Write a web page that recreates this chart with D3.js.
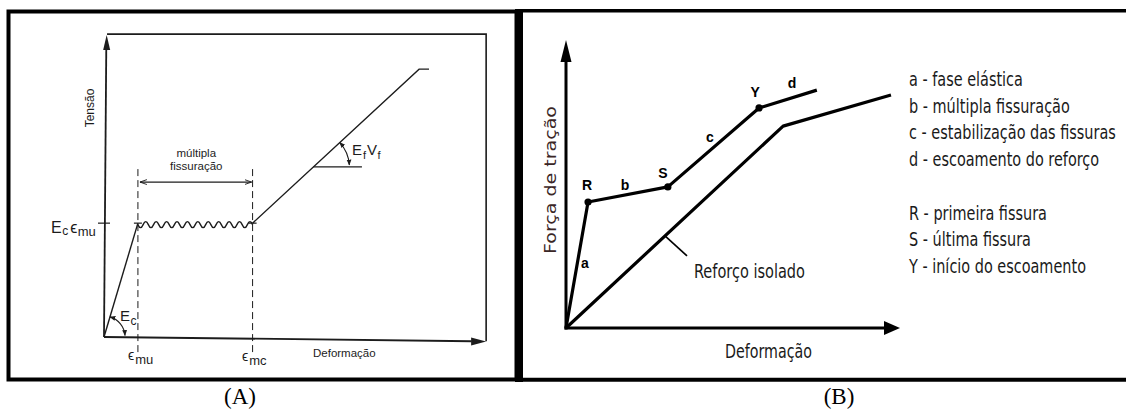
<!DOCTYPE html>
<html><head><meta charset="utf-8">
<script src="https://cdn.jsdelivr.net/npm/d3@7"></script>
<style>body{margin:0;background:#fff;} svg{display:block;}</style>
</head><body>
<script>
// ---------------- DATA ----------------
// Panel A : idealised tension curve of the composite (relative units 0..100)
const aKeyNames   = ["origem", "εmu", "εmc", "fim"];
const aStrain     = [0, 8.9, 39.0, 82.7];
const aStress     = [0, 37.7, 37.7, 88.7];
const aEndTickStrain = 85.3;          // short horizontal stroke at the end of the curve
const aEfRefStress   = 56.3;          // reference line used to show the slope EfVf
const aEfRefStrainEnd = 67.7;
const aTopFissLabel  = ["múltipla", "fissuração"];

// Panel B : tension-stiffening diagram (relative units 0..100)
const bCompNames  = ["O", "R", "S", "Y", "fim"];
const bCompStrain = [0, 6.6, 30.5, 57.8, 75.1];
const bCompForce  = [0, 43.75, 49.0, 76.4, 82.6];
const bBareStrain = [0, 65.0, 97.3];
const bBareForce  = [0, 70.1, 80.9];
const bSegNames   = ["a", "b", "c", "d"];
const bLegendPhases = ["a - fase elástica", "b - múltipla fissuração",
                       "c - estabilização das fissuras", "d - escoamento do reforço"];
const bLegendPoints = ["R - primeira fissura", "S - última fissura", "Y - início do escoamento"];

// ---------------- SETUP ----------------
const W = 1126, H = 413;
const svg = d3.select("body").append("svg").attr("width", W).attr("height", H)
  .style("background", "#fff");
const defs = svg.append("defs");
const ink = "#1c1c1c";

defs.append("marker").attr("id", "tri").attr("viewBox", "0 0 10 10")
  .attr("refX", 9).attr("refY", 5).attr("markerWidth", 6).attr("markerHeight", 6)
  .attr("markerUnits", "userSpaceOnUse").attr("orient", "auto-start-reverse")
  .append("path").attr("d", "M0,1L10,5L0,9Z").attr("fill", ink);
defs.append("marker").attr("id", "open").attr("viewBox", "0 0 10 10")
  .attr("refX", 10).attr("refY", 5).attr("markerWidth", 7).attr("markerHeight", 7)
  .attr("markerUnits", "userSpaceOnUse").attr("orient", "auto-start-reverse")
  .append("path").attr("d", "M0,1.5L10,5L0,8.5").attr("fill", "none").attr("stroke", ink).attr("stroke-width", 1.3);

function arrowHead(g, tip, dir, len, half, color) {
  const [tx, ty] = tip, [dx, dy] = dir;
  const bx = tx - dx * len, by = ty - dy * len, px = -dy, py = dx;
  g.append("path").attr("d",
    `M${tx},${ty}L${bx + px * half},${by + py * half}L${bx - px * half},${by - py * half}Z`)
    .attr("fill", color);
}

// Frames
svg.append("rect").attr("x", 8.5).attr("y", 11.5).attr("width", 508).attr("height", 368)
  .attr("fill", "none").attr("stroke", "#000").attr("stroke-width", 4);
svg.append("rect").attr("x", 515).attr("y", 9).attr("width", 8).attr("height", 373).attr("fill", "#000");
svg.append("line").attr("x1", 515).attr("x2", W).attr("y1", 10.8).attr("y2", 10.8)
  .attr("stroke", "#000").attr("stroke-width", 3.5);
svg.append("line").attr("x1", 515).attr("x2", W).attr("y1", 379.7).attr("y2", 379.7)
  .attr("stroke", "#000").attr("stroke-width", 4);

// ---------------- PANEL A ----------------
const xA = d3.scaleLinear().domain([0, 100]).range([104, 485]);
const yA = d3.scaleLinear().domain([0, 100]).range([337, 35]);
const gA = svg.append("g");
const fA = "'Liberation Sans', Arial, sans-serif";

// inner frame (top and right)
gA.append("path").attr("d",
  `M${xA(0.8)},${yA(100.3)}L${xA(100.3)},${yA(100.3)}L${xA(100.3)},${yA(-1.4)}`)
  .attr("fill", "none").attr("stroke", ink).attr("stroke-width", 1.6);
// axes
gA.append("line").attr("x1", xA(0)).attr("y1", yA(0)).attr("x2", xA(0.6)).attr("y2", yA(96))
  .attr("stroke", ink).attr("stroke-width", 1.8);
arrowHead(gA, [xA(0.7), yA(100)], [0, -1], 15, 3.5, ink);
gA.append("line").attr("x1", xA(0)).attr("y1", yA(0)).attr("x2", xA(96.5)).attr("y2", yA(-1.4))
  .attr("stroke", ink).attr("stroke-width", 1.8);
arrowHead(gA, [xA(100.3), yA(-1.5)], [1, 0], 15, 4, ink);

// dashed verticals
[aStrain[1], aStrain[2]].forEach(s => {
  gA.append("line").attr("x1", xA(s)).attr("x2", xA(s)).attr("y1", yA(55.6)).attr("y2", yA(-5))
    .attr("stroke", ink).attr("stroke-width", 1).attr("stroke-dasharray", "7,4");
});
// double arrow
gA.append("line").attr("x1", xA(aStrain[1]) + 2).attr("x2", xA(aStrain[2]) - 1)
  .attr("y1", yA(51.3)).attr("y2", yA(51.3)).attr("stroke", ink).attr("stroke-width", 1.2)
  .attr("marker-start", "url(#open)").attr("marker-end", "url(#open)");
gA.selectAll("text.mf").data(aTopFissLabel).join("text")
  .attr("x", (xA(aStrain[1]) + xA(aStrain[2])) / 2 + 1).attr("y", (d, i) => 157 + i * 13)
  .attr("text-anchor", "middle").attr("font-family", fA).attr("font-size", 11.5).attr("fill", ink)
  .text(d => d);

// curve: elastic branch
gA.append("line").attr("x1", xA(aStrain[0])).attr("y1", yA(aStress[0]))
  .attr("x2", xA(aStrain[1])).attr("y2", yA(aStress[1])).attr("stroke", ink).attr("stroke-width", 1.4);
// wavy plateau
(function () {
  const x0 = xA(aStrain[1]), x1 = xA(aStrain[2]), y = yA(aStress[1]) + 1.5;
  const halfWaves = 22, h = (x1 - x0) / halfWaves, amp = 6;
  let d = `M${x0},${y}`;
  for (let i = 0; i < halfWaves; i++) {
    const s = i % 2 === 0 ? 1 : -1;
    d += `Q${x0 + (i + 0.5) * h},${y + s * amp} ${x0 + (i + 1) * h},${y}`;
  }
  gA.append("path").attr("d", d).attr("fill", "none").attr("stroke", ink).attr("stroke-width", 1.4);
})();
// post-cracking branch
gA.append("path").attr("d",
  `M${xA(aStrain[2])},${yA(aStress[2])}L${xA(aStrain[3])},${yA(aStress[3])}L${xA(aEndTickStrain)},${yA(aStress[3])}`)
  .attr("fill", "none").attr("stroke", ink).attr("stroke-width", 1.4);
// small ticks
gA.append("line").attr("x1", xA(0) - 6).attr("x2", xA(0) + 6).attr("y1", yA(aStress[1])).attr("y2", yA(aStress[1]))
  .attr("stroke", ink).attr("stroke-width", 1.2);
[aStrain[1], aStrain[2]].forEach(s => {
  gA.append("line").attr("x1", xA(s) - 4).attr("x2", xA(s) + 4).attr("y1", yA(aStress[1])).attr("y2", yA(aStress[1]))
    .attr("stroke", ink).attr("stroke-width", 1.2);
});

// Ec angle arc
(function () {
  const cx = xA(0), cy = yA(0);
  const ang = Math.atan2(cy - yA(aStress[1]), xA(aStrain[1]) - cx);
  const r = 21;
  gA.append("path").attr("d",
    `M${cx + r * Math.cos(ang)},${cy - r * Math.sin(ang)}A${r},${r} 0 0,1 ${cx + r},${cy - 1.5}`)
    .attr("fill", "none").attr("stroke", ink).attr("stroke-width", 1.1)
    .attr("marker-start", "url(#tri)").attr("marker-end", "url(#tri)");
})();
// EfVf angle arc + reference line
(function () {
  const x2 = xA(aStrain[2]), y2 = yA(aStress[2]), x3 = xA(aStrain[3]), y3 = yA(aStress[3]);
  const yr = yA(aEfRefStress);
  const xr = x2 + (y2 - yr) / (y2 - y3) * (x3 - x2);
  gA.append("line").attr("x1", xr).attr("x2", xA(aEfRefStrainEnd)).attr("y1", yr).attr("y2", yr)
    .attr("stroke", ink).attr("stroke-width", 1.2);
  const ang = Math.atan2(y2 - y3, x3 - x2), r = 36;
  gA.append("path").attr("d",
    `M${xr + r * Math.cos(ang)},${yr - r * Math.sin(ang)}A${r},${r} 0 0,1 ${xr + r},${yr - 2}`)
    .attr("fill", "none").attr("stroke", ink).attr("stroke-width", 1.1)
    .attr("marker-start", "url(#tri)").attr("marker-end", "url(#tri)");
})();

// Texts panel A
function sub(g, x, y, parts) {
  const t = g.append("text").attr("x", x).attr("y", y).attr("font-family", fA).attr("fill", ink);
  parts.forEach(p => t.append("tspan").attr("font-size", p[1]).attr("dy", p[2] || 0)
    .attr("dx", p[3] || 0).text(p[0]));
  return t;
}
gA.append("text").attr("transform", `translate(94,108) rotate(-90)`).attr("text-anchor", "middle")
  .attr("font-family", fA).attr("font-size", 12).attr("fill", ink).text("Tensão");
sub(gA, 51, 233, [["E", 16], ["c", 12, 2, 0.5], ["ϵ", 16, -2, 2], ["mu", 13, 3, 0.5]]);
sub(gA, 120, 321, [["E", 15], ["c", 12, 4, 0.5]]);
sub(gA, 352, 155, [["E", 15], ["f", 11, 4, 1], ["V", 15, -4, 1], ["f", 11, 4, 0.5]]);
sub(gA, 128, 360, [["ϵ", 14], ["mu", 13, 4, 1]]);
sub(gA, 242, 361, [["ϵ", 14], ["mc", 13, 4, 1]]);
gA.append("text").attr("x", 313).attr("y", 357).attr("font-family", fA).attr("font-size", 11.5)
  .attr("fill", ink).text("Deformação");

// ---------------- PANEL B ----------------
const xB = d3.scaleLinear().domain([0, 100]).range([566, 900]);
const yB = d3.scaleLinear().domain([0, 100]).range([328, 40]);
const gB = svg.append("g");
const fN = "'Liberation Sans Narrow', 'Arial Narrow', 'DejaVu Sans Condensed', sans-serif";
const tB = "#1a1a1a";

// condensed text: natural width fitted by font-size, height restored by a vertical scale
function narrowText(g, x, y, str, size, width, anchor) {
  const t = g.append("text").attr("font-family", fN).attr("font-size", size)
    .attr("fill", tB).attr("text-anchor", anchor || "start").text(str);
  const l = t.node().getComputedTextLength();
  const fs = size * width / l;
  t.attr("font-size", fs).attr("transform", `translate(${x},${y}) scale(1,${size / fs})`);
  return t;
}

// axes
gB.append("line").attr("x1", xB(0)).attr("y1", yB(0) + 1.5).attr("x2", xB(0)).attr("y2", yB(94))
  .attr("stroke", "#000").attr("stroke-width", 3);
arrowHead(gB, [xB(0), yB(100)], [0, -1], 22, 5.5, "#000");
gB.append("line").attr("x1", xB(0) - 1.5).attr("y1", yB(0)).attr("x2", xB(96)).attr("y2", yB(0))
  .attr("stroke", "#000").attr("stroke-width", 3);
arrowHead(gB, [xB(100), yB(0)], [1, 0], 16, 7, "#000");

const lineB = d3.line().x(d => xB(d[0])).y(d => yB(d[1]));
const comp = bCompStrain.map((s, i) => [s, bCompForce[i]]);
const bare = bBareStrain.map((s, i) => [s, bBareForce[i]]);
gB.append("path").attr("d", lineB(bare)).attr("fill", "none").attr("stroke", "#000")
  .attr("stroke-width", 3.2).attr("stroke-linejoin", "round");
gB.append("path").attr("d", lineB(comp)).attr("fill", "none").attr("stroke", "#000")
  .attr("stroke-width", 3.2).attr("stroke-linejoin", "round");
gB.selectAll("circle.pt").data(comp.slice(1, 4)).join("circle")
  .attr("cx", d => xB(d[0])).attr("cy", d => yB(d[1])).attr("r", 3.6).attr("fill", "#000");

// point labels R S Y
const ptOff = [[-1, -12], [-5, -9], [-4, -11]];
gB.selectAll("text.pl").data(bCompNames.slice(1, 4)).join("text")
  .attr("x", (d, i) => xB(comp[i + 1][0]) + ptOff[i][0])
  .attr("y", (d, i) => yB(comp[i + 1][1]) + ptOff[i][1])
  .attr("text-anchor", "middle").attr("font-family", "'Liberation Sans', Arial, sans-serif")
  .attr("font-weight", "bold").attr("font-size", 14).attr("fill", "#000").text(d => d);
// segment labels a b c d
const segOff = [[8, 3], [-3, -4.5], [-3.5, -5.5], [4, -11]];
gB.selectAll("text.sl").data(bSegNames).join("text")
  .attr("x", (d, i) => (xB(comp[i][0]) + xB(comp[i + 1][0])) / 2 + segOff[i][0])
  .attr("y", (d, i) => (yB(comp[i][1]) + yB(comp[i + 1][1])) / 2 + segOff[i][1])
  .attr("text-anchor", "middle").attr("font-family", "'Liberation Sans', Arial, sans-serif")
  .attr("font-weight", "bold").attr("font-size", 14).attr("fill", "#000").text(d => d);

// leader for "Reforço isolado"
(function () {
  const t = 0.456; // fraction along the first segment of the bare bar line
  const sx = xB(bare[1][0] * t), sy = yB(bare[1][1] * t);
  gB.append("line").attr("x1", sx).attr("y1", sy).attr("x2", sx + 22).attr("y2", sy + 20)
    .attr("stroke", "#000").attr("stroke-width", 1.6);
  narrowText(gB, sx + 29, sy + 42, "Reforço isolado", 19, 111);
})();

gB.append("text").attr("transform", "translate(556,180) rotate(-90)").attr("text-anchor", "middle")
  .attr("font-family", "'DejaVu Sans', Verdana, sans-serif").attr("font-size", 16)
  .attr("fill", "#3a2626").attr("textLength", 148).attr("lengthAdjust", "spacingAndGlyphs")
  .text("Força de tração");
narrowText(gB, 725, 358, "Deformação", 20, 87);

// legend
const legG = gB.append("g");
const legItems = bLegendPhases.map((t, i) => ({t, y: 86 + i * 26.7}))
  .concat(bLegendPoints.map((t, i) => ({t, y: 219.5 + i * 26.7})));
const probe = legG.append("text").attr("font-family", fN).attr("font-size", 19)
  .text(bLegendPhases[2]);
const legFs = 19 * 207 / probe.node().getComputedTextLength();
probe.remove();
legG.selectAll("text").data(legItems).join("text")
  .attr("transform", d => `translate(909,${d.y}) scale(1,${19 / legFs})`)
  .attr("font-family", fN).attr("font-size", legFs).attr("fill", tB).text(d => d.t);

// ---------------- captions ----------------
svg.append("text").attr("x", 240).attr("y", 404).attr("text-anchor", "middle")
  .attr("font-family", "'Liberation Serif', 'Times New Roman', serif").attr("font-size", 23)
  .attr("fill", "#000").text("(A)");
svg.append("text").attr("x", 839).attr("y", 404).attr("text-anchor", "middle")
  .attr("font-family", "'Liberation Serif', 'Times New Roman', serif").attr("font-size", 23)
  .attr("fill", "#000").text("(B)");
</script>
</body></html>
